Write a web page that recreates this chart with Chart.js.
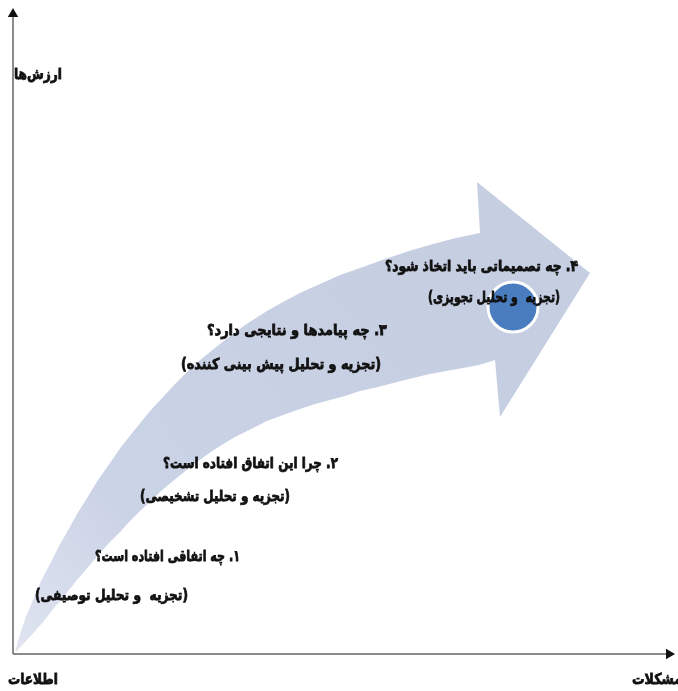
<!DOCTYPE html>
<html lang="fa">
<head>
  <meta charset="UTF-8">
  <script src="https://cdn.jsdelivr.net/npm/chart.js@4.4.1/dist/chart.umd.min.js"></script>
  <title>تحلیل داده</title>
  <style>
    body { margin: 0; background: #fff; }
    canvas { display: block; }
  </style>
</head>
<body>
  <canvas id="flow" width="678" height="691"></canvas>

  <script>
    // outline of the curved arrow, origin of the axes is (0,0)
    var upperEdgeX = [2, 5, 12, 20, 28, 37, 45, 54, 64, 74, 85, 97, 108, 120, 137, 150, 162, 175, 187, 202, 217, 235, 254, 270, 287, 307, 327, 350, 372, 396, 420, 443, 467];
    var upperEdgeY = [1, 13, 35, 54, 73, 90, 106, 122, 140, 156, 174, 191, 207, 222, 243, 257, 270, 283, 294, 306, 318, 331, 343, 352, 361, 370, 379, 387, 395, 403, 410, 416, 421];
    var arrowHeadX = [464, 577, 487, 482];
    var arrowHeadY = [472, 381, 237, 294];
    var lowerEdgeX = [466, 450, 433, 417, 400, 384, 365, 347, 332, 317, 302, 287, 270, 254, 238, 222, 207, 192, 176, 160, 148, 137, 127, 117, 107, 97, 86, 76, 64, 52, 41, 31, 23, 15, 8, 2];
    var lowerEdgeY = [289, 286, 283, 280, 276, 272, 267, 263, 258, 254, 250, 245, 239, 233, 225, 217, 208, 198, 186, 173, 163, 152, 143, 133, 122, 112, 100, 88, 74, 59, 46, 33, 24, 15, 8, 1];

    // the blue dot at the tip
    var goalX = [500];
    var goalY = [347];

    // step texts and where each line ends on the right
    var stepTexts = [
      "۴. چه تصمیماتی باید اتخاذ شود؟", "(تجزیه  و تحلیل تجویزی)",
      "۳. چه پیامدها و نتایجی دارد؟", "(تجزیه و تحلیل پیش بینی کننده)",
      "۲. چرا این اتفاق افتاده است؟", "(تجزیه و تحلیل تشخیصی)",
      "۱. چه اتفاقی افتاده است؟", "(تجزیه  و تحلیل توصیفی)"
    ];
    var stepX = [565, 547, 374, 368, 325, 277, 227, 175];
    var stepY = [387, 356, 323, 289, 190, 157, 97, 58];
    var stepWidth = [193, 132, 180, 200, 175, 150, 145, 153];

    var axisTexts = ["ارزش‌ها", "اطلاعات", "مشکلات"];
    var axisTextX = [49, 45, 669];
    var axisTextY = [579, -26, -26];
    var axisTextWidth = [48, 50, 50];

    function pts(xs, ys) {
      return xs.map(function (x, i) { return {x: x, y: ys[i]}; });
    }

    var outline = pts(upperEdgeX, upperEdgeY)
      .concat(pts(arrowHeadX, arrowHeadY))
      .concat(pts(lowerEdgeX, lowerEdgeY));

    // heavy rtl labels, placed with the chart scales
    var textPlugin = {
      id: 'stepText',
      afterDatasetsDraw: function (chart) {
        var ctx = chart.ctx, sx = chart.scales.x, sy = chart.scales.y;
        function put(t, x, y, w) {
          var px = sx.getPixelForValue(x), py = sy.getPixelForValue(y);
          ctx.strokeText(t, px, py, w);
          ctx.fillText(t, px, py, w);
        }
        ctx.save();
        ctx.direction = 'rtl';
        ctx.textAlign = 'right';
        ctx.textBaseline = 'middle';
        ctx.fillStyle = '#111';
        ctx.strokeStyle = '#111';
        ctx.lineWidth = 0.8;
        ctx.font = 'bold 15px "DejaVu Sans"';
        stepTexts.forEach(function (t, i) { put(t, stepX[i], stepY[i], stepWidth[i]); });
        axisTexts.forEach(function (t, i) { put(t, axisTextX[i], axisTextY[i], axisTextWidth[i]); });
        ctx.restore();
      }
    };

    new Chart(document.getElementById('flow'), {
      type: 'scatter',
      data: {
        datasets: [
          {
            // y axis with arrow
            data: [{x: 0, y: 0}, {x: 0, y: 640}],
            showLine: true,
            borderColor: '#666',
            borderWidth: 1.5,
            pointRadius: [0, 6],
            pointStyle: 'triangle',
            pointBackgroundColor: '#111',
            pointBorderColor: '#111',
            pointBorderWidth: 0,
            order: 3
          },
          {
            // x axis with arrow
            data: [{x: 0, y: 0}, {x: 656, y: 0}],
            showLine: true,
            borderColor: '#666',
            borderWidth: 1.5,
            pointRadius: [0, 6],
            pointStyle: 'triangle',
            rotation: 90,
            pointBackgroundColor: '#111',
            pointBorderColor: '#111',
            pointBorderWidth: 0,
            order: 3
          },
          {
            data: outline,
            showLine: true,
            tension: 0,
            fill: 'shape',
            borderWidth: 0,
            borderColor: 'rgba(0,0,0,0)',
            pointRadius: 0,
            backgroundColor: function (c) {
              var area = c.chart.chartArea;
              if (!area) return '#c9d1e4';
              var g = c.chart.ctx.createLinearGradient(area.left, area.bottom, area.left + 450, area.top + 300);
              g.addColorStop(0, '#e4e8f2');
              g.addColorStop(0.35, '#cbd3e6');
              g.addColorStop(1, '#c6cee2');
              return g;
            },
            order: 2
          },
          {
            data: pts(goalX, goalY),
            pointRadius: 25,
            pointBackgroundColor: '#4a7cc0',
            pointBorderColor: '#ffffff',
            pointBorderWidth: 3,
            order: 1
          }
        ]
      },
      options: {
        responsive: false,
        animation: false,
        events: [],
        layout: { padding: 0, autoPadding: false },
        plugins: { legend: { display: false }, tooltip: { enabled: false } },
        scales: {
          x: { type: 'linear', min: -13, max: 665, display: false },
          y: { type: 'linear', min: -37, max: 654, display: false }
        }
      },
      plugins: [textPlugin]
    });
  </script>
</body>
</html>
